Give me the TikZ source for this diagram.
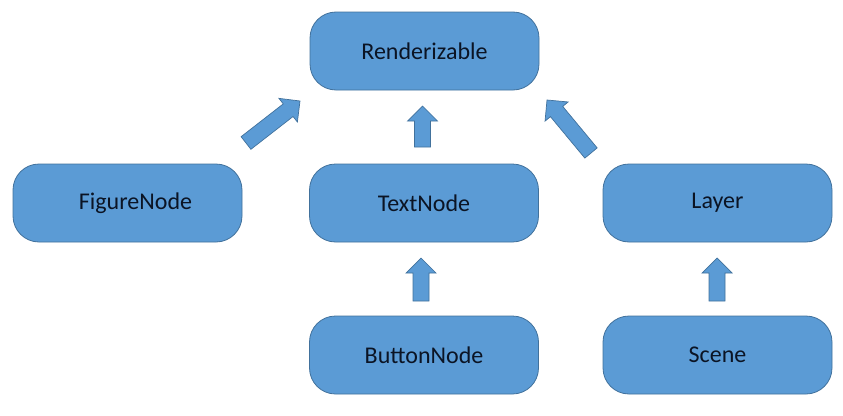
\documentclass[tikz,border=0pt]{standalone}
\usepackage{fontspec}
\setmainfont{Carlito}
\usetikzlibrary{calc}
\definecolor{boxblue}{HTML}{5B9BD5}
\definecolor{edgeblue}{HTML}{41719C}
\definecolor{txt}{HTML}{0B1424}
\newcommand\blockarr[2]{%
  \fill[boxblue,draw=edgeblue,line width=0.7pt,line join=miter]
    ($(#1)!8pt!90:(#2)$) --
    ($($(#2)!15pt!(#1)$)!8pt!-90:(#1)$) --
    ($($(#2)!15pt!(#1)$)!15pt!-90:(#1)$) --
    (#2) --
    ($($(#2)!15pt!(#1)$)!15pt!90:(#1)$) --
    ($($(#2)!15pt!(#1)$)!8pt!90:(#1)$) --
    ($(#1)!8pt!-90:(#2)$) -- cycle;}
\tikzset{
  cls/.style={draw=edgeblue, fill=boxblue, line width=0.8pt, rounded corners=26pt,
    minimum width=229pt, minimum height=78pt, inner sep=0pt,
    text=txt, font=\fontsize{24}{28}\selectfont}
}
\begin{document}
\begin{tikzpicture}[x=1pt,y=-1pt]
\useasboundingbox (0,0) rectangle (843,415);
\node[cls] (rend) at (424.5,51) {Renderizable};
\node[cls] (fig) at (127.5,203) {\hspace*{16pt}FigureNode};
\node[cls] (text) at (424,203) {TextNode};
\node[cls] (layer) at (717.5,203) {Layer};
\node[cls] (button) at (424,355) {ButtonNode};
\node[cls] (scene) at (717.5,355) {Scene};
\coordinate (a1t) at (246,143); \coordinate (a1h) at (300,101);
\coordinate (a2t) at (422.5,147); \coordinate (a2h) at (422.5,106);
\coordinate (a3t) at (591,153); \coordinate (a3h) at (547,100);
\coordinate (a4t) at (421,301); \coordinate (a4h) at (421,258);
\coordinate (a5t) at (717,301); \coordinate (a5h) at (717,258);
\blockarr{a1t}{a1h}
\blockarr{a2t}{a2h}
\blockarr{a3t}{a3h}
\blockarr{a4t}{a4h}
\blockarr{a5t}{a5h}
\end{tikzpicture}
\end{document}
